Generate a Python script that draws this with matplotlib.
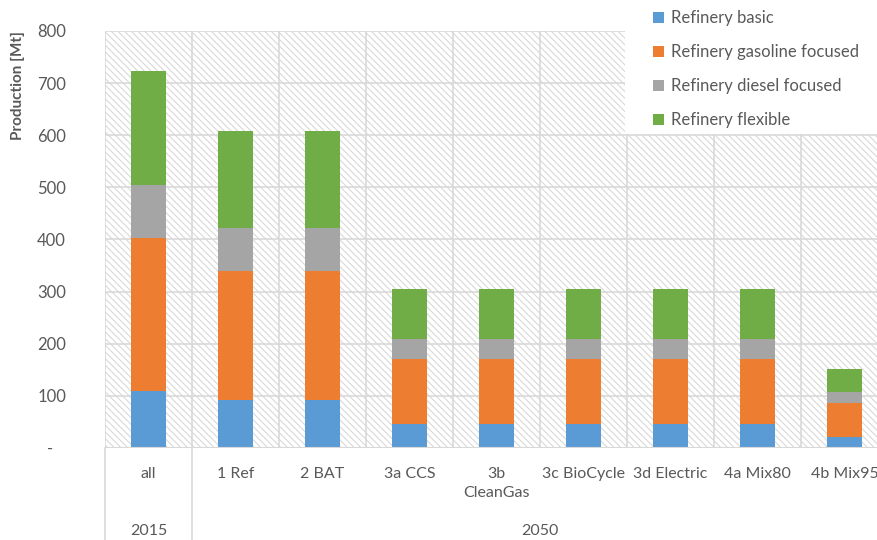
import matplotlib
matplotlib.use("Agg")
import matplotlib.pyplot as plt
from matplotlib.patches import Rectangle
import numpy as np

plt.rcParams['font.family'] = ['Lato', 'DejaVu Sans']
plt.rcParams['hatch.linewidth'] = 0.8
plt.rcParams['hatch.color'] = '#D6D6D6'

# scenario data, production in Mt
scenarios = ['all', '1 Ref', '2 BAT', '3a CCS', '3b\nCleanGas', '3c BioCycle',
             '3d Electric', '4a Mix80', '4b Mix95']
years = ['2015', '2050']
year_sizes = [1, 8]
basic = [109, 92, 92, 46, 46, 46, 46, 46, 21]
gasoline = [294, 248, 248, 125, 125, 125, 125, 125, 65]
diesel = [101, 82, 82, 38, 38, 38, 38, 38, 21]
flexible = [219, 186, 186, 96, 96, 96, 96, 96, 45]

series = [('Refinery basic', basic, '#5B9BD5'),
          ('Refinery gasoline focused', gasoline, '#ED7D31'),
          ('Refinery diesel focused', diesel, '#A5A5A5'),
          ('Refinery flexible', flexible, '#70AD47')]

txt = '#595959'
grid = '#D9D9D9'

fig = plt.figure(figsize=(8.78, 5.4), dpi=100)
ax = fig.add_axes([105/878, 92/540, 9*87/878, 417/540])

# hatched plot area background
ax.add_patch(Rectangle((0, 0), 1, 1, transform=ax.transAxes, facecolor='white',
                       edgecolor=grid, hatch='\\' * 5, linewidth=0, zorder=0))

x = np.arange(len(scenarios))
bottom = np.zeros(len(scenarios))
handles = []
for name, vals, col in series:
    h = ax.bar(x, vals, 0.4, bottom=bottom, color=col, label=name, zorder=3)
    handles.append(h)
    bottom += np.array(vals)

ax.set_xlim(-0.5, len(scenarios) - 0.5)
ax.set_ylim(0, 800)
ax.set_yticks(range(0, 801, 100))
ax.set_yticklabels(['-   '] + [str(v) for v in range(100, 801, 100)])
for v in range(100, 801, 100):
    ax.axhline(v, color=grid, lw=1.2, zorder=1)
for b in np.arange(-0.5, len(scenarios), 1):
    ax.axvline(b, color=grid, lw=1.2, zorder=1)
ax.axhline(0, color=grid, lw=1.5, zorder=4)

ax.set_xticks(x)
ax.set_xticklabels(scenarios, linespacing=1.4)
ax.tick_params(axis='both', length=0, colors=txt, labelsize=12)
ax.tick_params(axis='x', labelsize=11.5, pad=14)
ax.tick_params(axis='y', pad=28)
for s in ax.spines.values():
    s.set_visible(False)

# year group separators and labels below the axis
trans = ax.get_xaxis_transform()
start = -0.5
ylow = -92 / 417
ax.plot([start, start], [0, ylow], color=grid, lw=1.2, transform=trans, clip_on=False)
for yr, n in zip(years, year_sizes):
    end = start + n
    ax.plot([end, end], [0, ylow], color=grid, lw=1.2, transform=trans, clip_on=False)
    ax.text((start + end) / 2, -83 / 417, yr, transform=trans, ha='center', va='center',
            color=txt, fontsize=11.5)
    start = end

fig.text(18/878, 1 - 86/540, 'Production [Mt]', rotation=90, ha='center', va='center',
         color=txt, fontsize=11, fontweight='bold')

# white legend box over the top right of the plot area
fig.patches.append(Rectangle((625/878, 1 - 134/540), 253/878, 134/540, transform=fig.transFigure,
                             facecolor='white', edgecolor='none', zorder=1))
leg = fig.legend(handles=handles, loc='upper left', bbox_to_anchor=(638/878, 1 + 5/540),
                 frameon=False, fontsize=12, handlelength=0.65, handleheight=0.65,
                 handletextpad=0.45, labelspacing=1.08, labelcolor=txt)

fig.savefig('out.png', dpi=100)
